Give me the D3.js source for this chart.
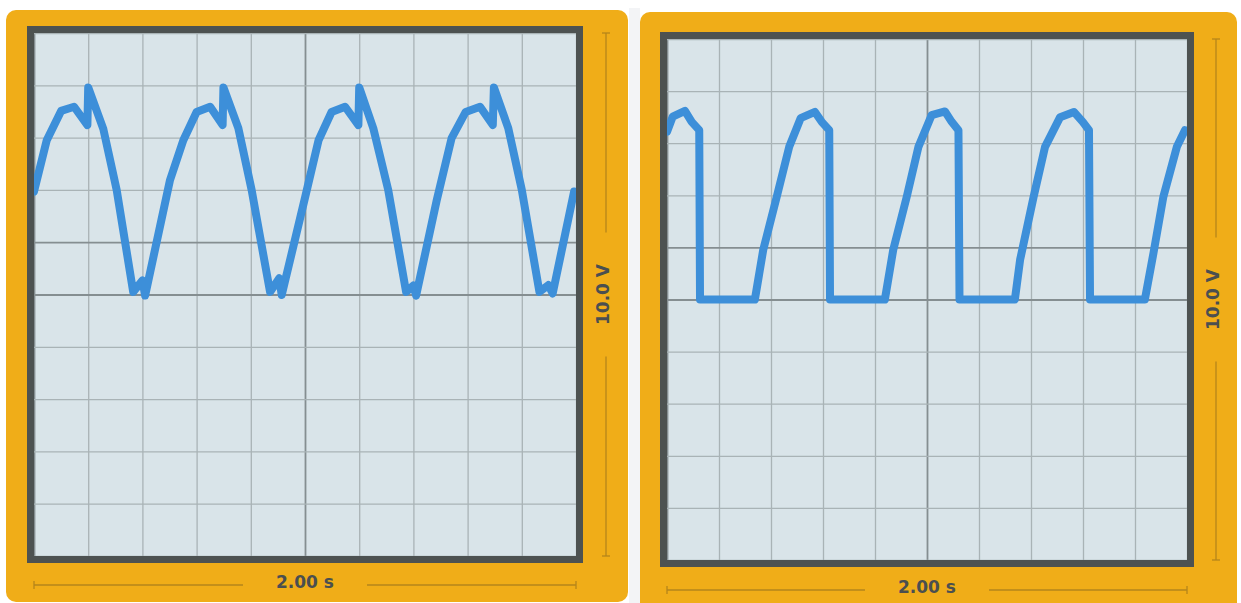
<!DOCTYPE html>
<html lang="en">
  <head>
    <meta charset="UTF-8" />
    <title>scope</title>
    <script src="https://cdn.jsdelivr.net/npm/d3@7"></script>
    <style>
      body { margin: 0; background: #ffffff; }
      text { font-family: 'DejaVu Sans', Verdana, sans-serif; font-weight: bold; }
    </style>
  </head>
  <body>
    <svg width="1241" height="603"></svg>
  </body>

  <script>
    // 横轴: 时间 (s), 纵轴: 电压 (V)
    var timeTicks = [0, 0.2, 0.4, 0.6, 0.8, 1.0, 1.2, 1.4, 1.6, 1.8, 2.0];
    var voltTicks = [-5, -4, -3, -2, -1, 0, 1, 2, 3, 4, 5];
    var timeLabel = '2.00 s';
    var voltLabel = '10.0 V';

    // 左图波形 [t, v]
    var leftTrace = [
      [0.00, 1.97], [0.047, 2.95], [0.10, 3.51], [0.148, 3.59], [0.197, 3.24], [0.200, 3.96],
      [0.256, 3.16], [0.305, 2.00], [0.366, 0.05], [0.400, 0.27], [0.410, -0.02],
      [0.502, 2.19], [0.551, 2.95], [0.600, 3.49], [0.650, 3.59], [0.696, 3.24], [0.699, 3.96],
      [0.754, 3.18], [0.803, 2.00], [0.871, 0.05], [0.905, 0.31], [0.914, -0.01],
      [1.000, 1.85], [1.050, 2.95], [1.098, 3.49], [1.148, 3.59], [1.197, 3.24], [1.200, 3.96],
      [1.252, 3.18], [1.307, 2.00], [1.373, 0.05], [1.400, 0.17], [1.410, -0.02],
      [1.486, 1.80], [1.541, 2.99], [1.593, 3.49], [1.646, 3.59], [1.693, 3.24], [1.697, 3.96],
      [1.750, 3.18], [1.800, 2.00], [1.865, 0.05], [1.898, 0.18], [1.914, 0.02], [1.993, 1.97]
    ];

    // 右图波形 [t, v]
    var rightTrace = [
      [0.000, 3.22], [0.022, 3.51], [0.069, 3.62], [0.095, 3.41], [0.124, 3.25], [0.127, 0.00],
      [0.338, 0.00], [0.370, 0.95], [0.422, 1.97], [0.470, 2.93], [0.514, 3.48], [0.569, 3.60],
      [0.595, 3.41], [0.624, 3.25], [0.627, 0.00],
      [0.838, 0.00], [0.870, 0.95], [0.922, 1.97], [0.967, 2.93], [1.018, 3.54], [1.069, 3.61],
      [1.095, 3.41], [1.121, 3.25], [1.125, 0.00],
      [1.338, 0.00], [1.358, 0.76], [1.410, 1.97], [1.454, 2.93], [1.512, 3.50], [1.565, 3.60],
      [1.599, 3.41], [1.623, 3.25], [1.627, 0.00],
      [1.838, 0.00], [1.871, 0.89], [1.909, 1.97], [1.961, 2.93], [1.992, 3.25]
    ];

    var svg = d3.select('svg');

    // 两块面板之间的浅灰条
    svg.append('rect').attr('x', 629).attr('y', 8).attr('width', 11).attr('height', 595).attr('fill', '#f3f4f6');

    function drawScope(p, data) {
      // 橙色外壳
      svg.append('rect')
        .attr('x', p.bx).attr('y', p.by)
        .attr('width', p.bw).attr('height', p.bh)
        .attr('rx', 10).attr('fill', '#f0ad18');

      var g = svg.append('g').attr('transform', 'translate(' + p.x + ',' + p.y + ')');

      var x = d3.scaleLinear().domain([0, 2]).range([0, p.w]);
      var y = d3.scaleLinear().domain([-5, 5]).range([p.h, 0]);

      g.append('rect').attr('width', p.w).attr('height', p.h).attr('fill', '#d9e4e9');

      // 网格
      var gx = g.append('g')
        .attr('transform', 'translate(0,' + p.h + ')')
        .call(d3.axisBottom(x).tickValues(timeTicks).tickSize(-p.h).tickFormat(''));
      var gy = g.append('g')
        .call(d3.axisLeft(y).tickValues(voltTicks).tickSize(-p.w).tickFormat(''));
      [gx, gy].forEach(function (a) {
        a.select('.domain').remove();
        a.selectAll('.tick line')
          .attr('stroke', function (d) { return d === 1 || d === 0 ? '#858e91' : '#a9b3b6'; })
          .attr('stroke-width', function (d) { return d === 1 || d === 0 ? 1.8 : 1.3; });
      });

      // 波形
      var line = d3.line()
        .x(function (d) { return x(d[0]); })
        .y(function (d) { return y(d[1]); });
      g.append('path')
        .datum(data)
        .attr('d', line)
        .attr('fill', 'none')
        .attr('stroke', '#3d8fd9')
        .attr('stroke-width', 8)
        .attr('stroke-linejoin', 'round')
        .attr('stroke-linecap', 'round');

      // 深色边框
      g.append('rect')
        .attr('x', -3.5).attr('y', -3.5)
        .attr('width', p.w + 7).attr('height', p.h + 7)
        .attr('fill', 'none')
        .attr('stroke', '#4d5251')
        .attr('stroke-width', 7);

      // 比例尺标注
      var sc = '#b5861b';
      var gap = 62;
      var ly = p.h + p.sy;
      var cx = p.w / 2;
      var lx = p.w + p.sx;
      var cy = p.h / 2;
      var s = g.append('g').attr('stroke', sc).attr('stroke-width', 1.3);
      s.append('line').attr('x1', 0).attr('x2', cx - gap).attr('y1', ly).attr('y2', ly);
      s.append('line').attr('x1', cx + gap).attr('x2', p.w).attr('y1', ly).attr('y2', ly);
      s.append('line').attr('x1', 0).attr('x2', 0).attr('y1', ly - 4).attr('y2', ly + 4);
      s.append('line').attr('x1', p.w).attr('x2', p.w).attr('y1', ly - 4).attr('y2', ly + 4);
      s.append('line').attr('x1', lx).attr('x2', lx).attr('y1', 0).attr('y2', cy - gap);
      s.append('line').attr('x1', lx).attr('x2', lx).attr('y1', cy + gap).attr('y2', p.h);
      s.append('line').attr('x1', lx - 4).attr('x2', lx + 4).attr('y1', 0).attr('y2', 0);
      s.append('line').attr('x1', lx - 4).attr('x2', lx + 4).attr('y1', p.h).attr('y2', p.h);

      g.append('text')
        .attr('x', cx).attr('y', ly)
        .attr('dy', '0.2em')
        .attr('text-anchor', 'middle')
        .attr('font-size', 17)
        .attr('fill', '#4a4f50')
        .text(timeLabel);
      g.append('text')
        .attr('transform', 'translate(' + lx + ',' + cy + ') rotate(-90)')
        .attr('dy', '0.2em')
        .attr('text-anchor', 'middle')
        .attr('font-size', 17)
        .attr('fill', '#4a4f50')
        .text(voltLabel);
    }

    drawScope({ bx: 6, by: 10, bw: 622, bh: 592, x: 34, y: 33, w: 542, h: 523, sx: 30, sy: 29 }, leftTrace);
    drawScope({ bx: 640, by: 12, bw: 597, bh: 600, x: 667, y: 39, w: 520, h: 521, sx: 29, sy: 30 }, rightTrace);
  </script>
</html>
